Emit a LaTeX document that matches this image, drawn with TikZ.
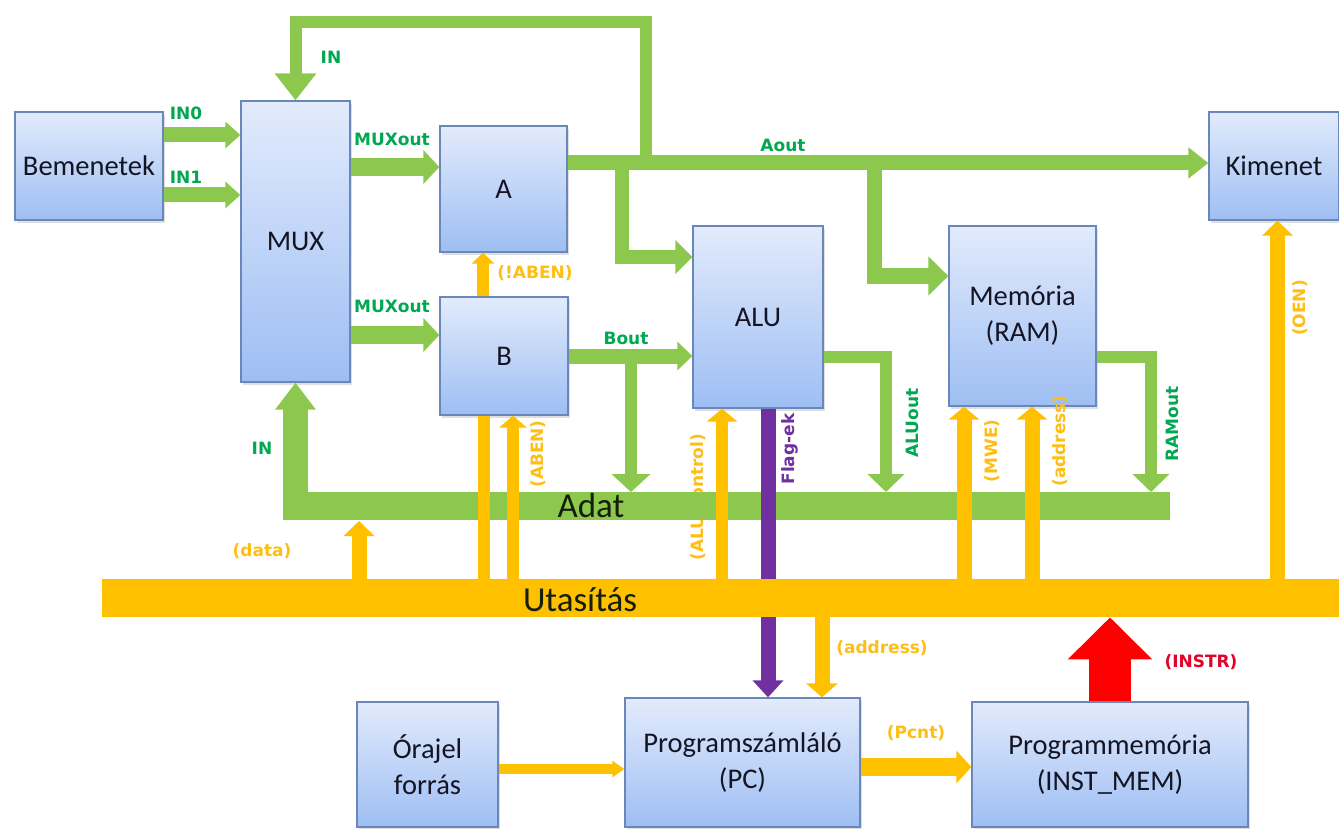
\documentclass[tikz,border=0pt]{standalone}
\usepackage{fontspec}
\setmainfont{Carlito}
\newfontfamily\lblfamily{DejaVu Sans}
\usetikzlibrary{arrows.meta,shadows}

\definecolor{busgreen}{RGB}{140,200,78}
\definecolor{busorange}{RGB}{255,192,0}
\definecolor{flagpurple}{RGB}{112,48,160}
\definecolor{instrred}{RGB}{255,0,0}
\definecolor{lblgreen}{RGB}{0,168,82}
\definecolor{lblorange}{RGB}{255,190,20}
\definecolor{lblred}{RGB}{228,0,40}
\definecolor{boxtop}{RGB}{226,235,252}
\definecolor{boxbot}{RGB}{158,190,243}
\definecolor{boxline}{RGB}{105,135,185}
\definecolor{boxtext}{RGB}{20,20,35}
\definecolor{bustext}{RGB}{20,30,10}

\begin{document}
\begin{tikzpicture}[x=1pt, y=-1pt, line join=miter,
  blk/.style={draw=boxline, line width=1.3pt, top color=boxtop, bottom color=boxbot,
    text=boxtext, align=center, inner sep=0pt, font=\fontsize{28.5}{36}\selectfont,
    drop shadow={shadow xshift=2pt, shadow yshift=-3pt, opacity=0.25}},
  gw/.style={draw=busgreen, line width=#1},
  ow/.style={draw=busorange, line width=#1},
  ah/.style 2 args={-{Triangle[width=#1, length=#2]}},
  lbl/.style={inner sep=0pt, font=\lblfamily\bfseries\fontsize{17}{20}\selectfont},
  glbl/.style={lbl, text=lblgreen},
  olbl/.style={lbl, text=lblorange},
  buslbl/.style={inner sep=0pt, text=bustext, font=\fontsize{35}{40}\selectfont},
  bar/.style={inner sep=0pt, anchor=north west, fill=#1}
]
\useasboundingbox (0,0) rectangle (1339,829);
\fill[white] (0,0) rectangle (1339,829);

% functional blocks
\node[blk, minimum width=148pt, minimum height=108pt] (bem) at (89,166) {Bemenetek};
\node[blk, minimum width=109pt, minimum height=281pt] (mux) at (295.5,241.5) {MUX};
\node[blk, minimum width=127pt, minimum height=126pt] (A) at (503.5,189) {A};
\node[blk, minimum width=128pt, minimum height=118pt] (B) at (504,356) {B};
\node[blk, minimum width=130pt, minimum height=182pt] (alu) at (758,317) {ALU};
\node[blk, minimum width=147pt, minimum height=180pt] (ram) at (1022.5,316) {Memória\\(RAM)};
\node[blk, minimum width=130pt, minimum height=108pt] (kim) at (1274,166) {Kimenet};
\node[blk, minimum width=141pt, minimum height=125pt] (ora) at (427.5,764.5) {Órajel\\forrás};
\node[blk, minimum width=235pt, minimum height=129pt] (pc) at (742.5,762.5) {Programszámláló\\(PC)};
\node[blk, minimum width=276pt, minimum height=125pt] (imem) at (1110,764.5) {Programmemória\\(INST\_MEM)};

% data path (green)
\coordinate (in0) at ([yshift=31pt]bem.east);
\coordinate (in1) at ([yshift=-29pt]bem.east);
\draw[gw=15pt, ah={26pt}{15pt}] (in0) -- (in0 -| mux.west);
\draw[gw=15pt, ah={26pt}{15pt}] (in1) -- (in1 -| mux.west);
\coordinate (mo1) at ([yshift=74.5pt]mux.east);
\coordinate (mo2) at ([yshift=-93.5pt]mux.east);
\draw[gw=18pt, ah={33pt}{16pt}] (mo1) -- (mo1 -| A.west);
\draw[gw=18pt, ah={33pt}{16pt}] (mo2) -- (mo2 -| B.west);
\coordinate (aout) at ([yshift=26pt]A.east);
\draw[gw=15pt, ah={30pt}{20pt}] (aout) -- (aout -| kim.west);
\coordinate (jtop) at (646,163);
\coordinate (ctop) at (646,22);
\draw[gw=12pt, ah={40pt}{27pt}] (jtop) -- (ctop) -- (ctop -| mux.north) -- (mux.north);
\coordinate (ja1) at (622,163);
\coordinate (aluin) at ([yshift=60pt]alu.west);
\draw[gw=14pt, ah={33pt}{17pt}] (ja1) |- (aluin);
\coordinate (ja2) at (874,163);
\coordinate (ramin) at ([yshift=40pt]ram.west);
\draw[gw=15pt, ah={38pt}{20pt}] (ja2) |- (ramin);
\draw[gw=15pt, ah={28pt}{15pt}] (B.east) -- (B.east -| alu.west);
\coordinate (adtop) at (0,492);
\coordinate (jb) at (631,356);
\draw[gw=12pt, ah={38pt}{18pt}] (jb) -- (jb |- adtop);
\coordinate (aluo) at ([yshift=-40pt]alu.east);
\coordinate (aluc) at (886,357);
\draw[gw=12pt, ah={36pt}{18pt}] (aluo) -- (aluc) -- (aluc |- adtop);
\coordinate (ramo) at ([yshift=-41pt]ram.east);
\coordinate (ramc) at (1151,357);
\draw[gw=12pt, ah={36pt}{18pt}] (ramo) -- (ramc) -- (ramc |- adtop);

% label partly hidden by the data bus
\node[olbl, rotate=90] at (698,497) {(ALU control)};

% data bus
\node[bar=busgreen, minimum width=887pt, minimum height=28pt] (adat) at (283,492) {};
\node[buslbl] at (591,505) {Adat};
\draw[gw=25pt, ah={39pt}{27pt}] (adat.west -| mux.south) -- (mux.south);

% control lines (orange)
\coordinate (utmid) at (0,598);
\coordinate (bl) at ([xshift=-20pt]B.south);
\draw[ow=12pt] (utmid -| bl) -- (bl);
\coordinate (ben) at ([xshift=9pt]B.south);
\draw[ow=12pt, ah={27pt}{12pt}] (utmid -| ben) -- (ben);
\coordinate (alc) at ([xshift=-36pt]alu.south);
\draw[ow=12pt, ah={30pt}{13pt}] (utmid -| alc) -- (alc);
\coordinate (mwe) at ([xshift=-58.5pt]ram.south);
\draw[ow=15pt, ah={30pt}{13pt}] (utmid -| mwe) -- (mwe);
\coordinate (rad) at ([xshift=9.5pt]ram.south);
\draw[ow=15pt, ah={30pt}{13pt}] (utmid -| rad) -- (rad);
\coordinate (oen) at ([xshift=3.5pt]kim.south);
\draw[ow=15pt, ah={30pt}{15pt}] (utmid -| oen) -- (oen);
\coordinate (dat) at (359,521);
\draw[ow=15pt, ah={30pt}{15pt}] (utmid -| dat) -- (dat);
\coordinate (nab) at ([xshift=-21pt]B.north);
\draw[ow=12pt, ah={22pt}{11pt}] (nab) -- (nab |- A.south);

% flags to the program counter
\coordinate (flg) at ([xshift=10pt]alu.south);
\draw[draw=flagpurple, line width=15pt, ah={30pt}{17pt}] (flg) -- (flg |- pc.north);

% instruction bus
\node[bar=busorange, minimum width=1237pt, minimum height=38pt] (ut) at (102,579) {};
\node[buslbl] at (580,600) {Utasítás};

\coordinate (pad) at ([xshift=79.5pt]pc.north);
\draw[ow=15pt, ah={31pt}{14pt}] (ut.south -| pad) -- (pad);
\coordinate (clk) at ([yshift=-4.5pt]ora.east);
\draw[ow=10pt, ah={16pt}{12pt}] (clk) -- (clk -| pc.west);
\coordinate (pcn) at ([yshift=-4.5pt]pc.east);
\draw[ow=18pt, ah={32pt}{15pt}] (pcn) -- (pcn -| imem.west);
\draw[draw=instrred, line width=42pt, ah={82pt}{42pt}] (imem.north) -- (imem.north |- ut.south);

% signal labels
\node[glbl] at (186,113) {IN0};
\node[glbl] at (186,177) {IN1};
\node[glbl] at (331,57) {IN};
\node[glbl] at (392,139) {MUXout};
\node[glbl] at (392,306) {MUXout};
\node[glbl] at (783,145) {Aout};
\node[glbl] at (626,338) {Bout};
\node[glbl] at (262,448) {IN};
\node[glbl, rotate=90] at (912,423) {ALUout};
\node[glbl, rotate=90] at (1172,424) {RAMout};
\node[olbl] at (535,273) {(!ABEN)};
\node[olbl] at (262,551) {(data)};
\node[olbl, rotate=90] at (538,454) {(ABEN)};
\node[olbl, rotate=90] at (992,451) {(MWE)};
\node[olbl, rotate=90] at (1060,441) {(address)};
\node[olbl, rotate=90] at (1300,308) {(OEN)};
\node[olbl] at (882,648) {(address)};
\node[olbl] at (916,733) {(Pcnt)};
\node[lbl, text=flagpurple, rotate=90] at (790,449) {Flag-ek};
\node[lbl, text=lblred] at (1201,662) {(INSTR)};
\end{tikzpicture}
\end{document}
